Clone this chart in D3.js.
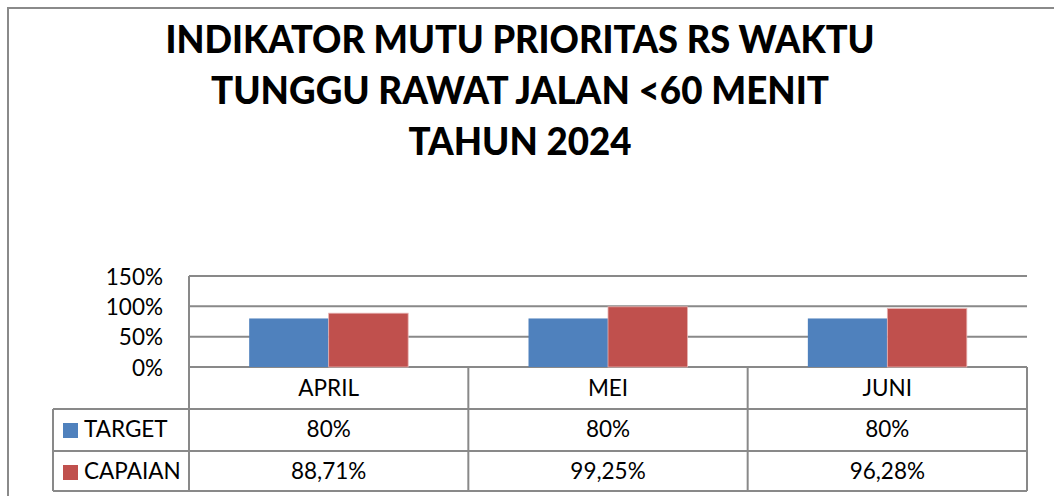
<!DOCTYPE html>
<html>
<head>
<meta charset="utf-8">
<script src="https://cdn.jsdelivr.net/npm/d3@7"></script>
<style>
  html, body { margin: 0; padding: 0; background: #fff; }
  svg { display: block; }
  text { font-family: Lato, "Open Sans", sans-serif; fill: #000; }
</style>
</head>
<body>
<svg id="chart" width="1054" height="496"></svg>
<script>
// ---- data ----
const titleLines = ["INDIKATOR MUTU PRIORITAS RS WAKTU", "TUNGGU RAWAT JALAN <60 MENIT", "TAHUN 2024"];
const categories = ["APRIL", "MEI", "JUNI"];
const seriesNames = ["TARGET", "CAPAIAN"];
const targetValues = [80, 80, 80];
const capaianValues = [88.71, 99.25, 96.28];
const yTicks = [0, 50, 100, 150];
const seriesColors = ["#4F81BD", "#C0504D"];

const seriesValues = [targetValues, capaianValues];
const fmt = v => (Number.isInteger(v) ? String(v) : v.toFixed(2).replace(".", ",")) + "%";

const svg = d3.select("#chart");
const gridColor = "#898989";

// outer frame
svg.append("rect").attr("x", 8).attr("y", 8).attr("width", 1200).attr("height", 600)
  .attr("fill", "none").attr("stroke", "#8a8a8a").attr("stroke-width", 2);

// title
const titleLen = [709, 618, 223];
svg.append("g").selectAll("text").data(titleLines).join("text")
  .attr("x", 520).attr("y", (d, i) => 53 + i * 51)
  .attr("text-anchor", "middle")
  .attr("font-weight", 900).attr("font-size", 37)
  .attr("textLength", (d, i) => titleLen[i])
  .attr("lengthAdjust", "spacingAndGlyphs")
  .text(d => d);

// scales
const plotLeft = 189, plotRight = 1027, plotTop = 276, plotBottom = 367;
const x0 = d3.scaleBand().domain(categories).range([plotLeft, plotRight]).padding(0);
const x1 = d3.scaleBand().domain(seriesNames).range([0, x0.bandwidth()]).paddingInner(0).paddingOuter(0.757);
const y = d3.scaleLinear().domain([0, 150]).range([plotBottom, plotTop]);

// gridlines
svg.append("g").selectAll("line").data(yTicks).join("line")
  .attr("x1", plotLeft).attr("x2", plotRight)
  .attr("y1", d => y(d)).attr("y2", d => y(d))
  .attr("stroke", gridColor).attr("stroke-width", 2);

// y axis labels
const yAxis = d3.axisLeft(y).tickValues(yTicks).tickFormat(d => d + "%").tickSize(0).tickPadding(26);
const ya = svg.append("g").attr("transform", `translate(${plotLeft},0)`).call(yAxis);
ya.select(".domain").remove();
ya.selectAll("text").attr("font-size", 22.5).attr("font-family", "Lato, sans-serif").attr("fill", "#000").attr("dy", "0.36em");

// bars
const groups = svg.append("g").selectAll("g").data(categories).join("g")
  .attr("transform", d => `translate(${x0(d)},0)`);
groups.selectAll("rect").data((c, ci) => seriesNames.map((s, si) => ({ s, si, v: seriesValues[si][ci] })))
  .join("rect")
  .attr("x", d => x1(d.s)).attr("width", x1.bandwidth())
  .attr("y", d => y(d.v)).attr("height", d => y(0) - y(d.v))
  .attr("fill", d => seriesColors[d.si])
  .attr("stroke", d => d.si === 1 ? "#e8b3b2" : "none").attr("stroke-width", 0.8);

// data table
const rowH = [42, 42, 40];
const tableTop = plotBottom;
const rowY = [tableTop, tableTop + rowH[0], tableTop + rowH[0] + rowH[1], tableTop + rowH[0] + rowH[1] + rowH[2]];
const legendLeft = 53;
const tg = svg.append("g");
[rowY[1], rowY[2], rowY[3]].forEach(yy => {
  tg.append("line").attr("x1", legendLeft).attr("x2", plotRight).attr("y1", yy).attr("y2", yy)
    .attr("stroke", gridColor).attr("stroke-width", 2);
});
tg.append("line").attr("x1", plotLeft).attr("x2", plotLeft).attr("y1", plotTop).attr("y2", rowY[3])
  .attr("stroke", gridColor).attr("stroke-width", 2);
tg.append("line").attr("x1", legendLeft).attr("x2", legendLeft).attr("y1", rowY[1]).attr("y2", rowY[3])
  .attr("stroke", gridColor).attr("stroke-width", 2);
categories.forEach(c => {
  const xx = x0(c) + x0.bandwidth();
  tg.append("line").attr("x1", xx).attr("x2", xx).attr("y1", rowY[0]).attr("y2", rowY[3])
    .attr("stroke", gridColor).attr("stroke-width", 2);
});

// category labels
tg.selectAll("text.cat").data(categories).join("text").attr("class", "cat")
  .attr("x", d => x0(d) + x0.bandwidth() / 2).attr("y", rowY[0] + 29)
  .attr("text-anchor", "middle").attr("font-size", 22.5).text(d => d);

// legend rows + values
seriesNames.forEach((s, si) => {
  const top = rowY[si + 1];
  tg.append("rect").attr("x", 63).attr("y", top + 14).attr("width", 15).attr("height", 15)
    .attr("fill", seriesColors[si]);
  tg.append("text").attr("x", 84).attr("y", top + 28).attr("font-size", 22.5).text(s);
  tg.selectAll("text.v" + si).data(categories).join("text").attr("class", "v" + si)
    .attr("x", d => x0(d) + x0.bandwidth() / 2).attr("y", top + 28)
    .attr("text-anchor", "middle").attr("font-size", 22.5)
    .text((d, ci) => fmt(seriesValues[si][ci]));
});
</script>
</body>
</html>
